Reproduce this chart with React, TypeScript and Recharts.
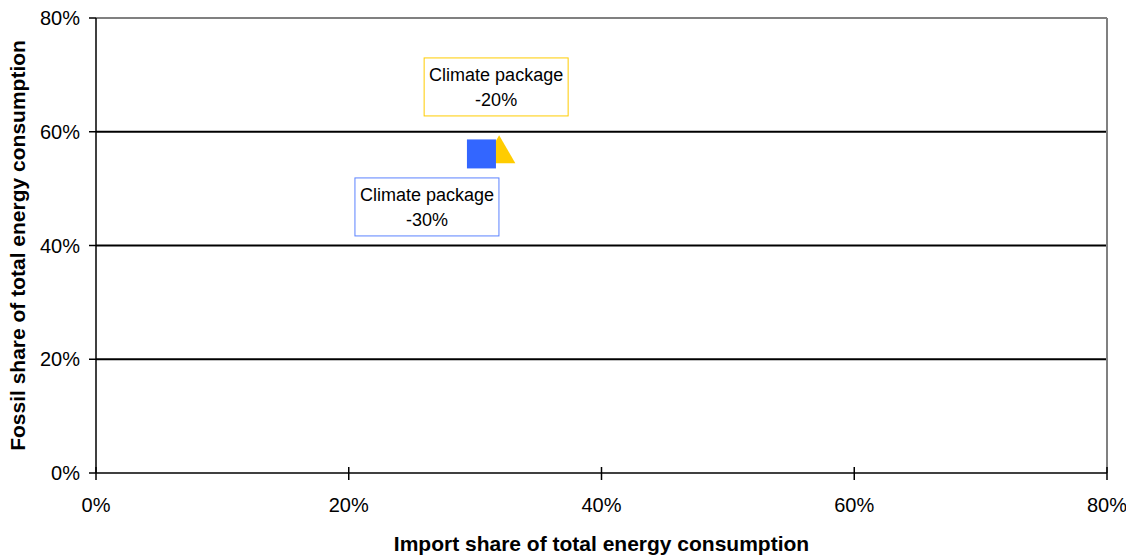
import React from 'react';
import {
  ScatterChart,
  Scatter,
  XAxis,
  YAxis,
  CartesianGrid,
  ReferenceLine,
  Label,
} from 'recharts';

// Scenario points: import share (x) vs fossil share (y), in percent
const package20 = [{ importShare: 31.9, fossilShare: 56.1 }];
const package30 = [{ importShare: 30.5, fossilShare: 56.1 }];

const package20Label = ['Climate package', '-20%'];
const package30Label = ['Climate package', '-30%'];

const axisTicks = [0, 20, 40, 60, 80];

const xTitle = 'Import share of total energy consumption';
const yTitle = 'Fossil share of total energy consumption';

const FONT = '"Liberation Sans", Arial, Helvetica, sans-serif';
const YELLOW = '#FFCC00';
const BLUE = '#3366FF';

const pct = (v: number) => `${v}%`;

const XTick = (props: any) => {
  const { x, y, payload } = props;
  return (
    <g>
      <line x1={x} x2={x} y1={y - 6} y2={y + 7} stroke="#000" strokeWidth={1.5} />
      <text
        x={x}
        y={y + 25}
        dy="0.71em"
        textAnchor="middle"
        fontSize={20}
        fontFamily={FONT}
        fill="#000"
      >
        {pct(payload.value)}
      </text>
    </g>
  );
};

const YTick = (props: any) => {
  const { x, y, payload } = props;
  return (
    <g>
      <line x1={x - 7} x2={x} y1={y} y2={y} stroke="#000" strokeWidth={1.5} />
      <text
        x={x - 16}
        y={y}
        dy="0.355em"
        textAnchor="end"
        fontSize={20}
        fontFamily={FONT}
        fill="#000"
      >
        {pct(payload.value)}
      </text>
    </g>
  );
};

const LabelBox = ({
  left,
  top,
  lines,
  border,
}: {
  left: number;
  top: number;
  lines: string[];
  border: string;
}) => {
  const w = 144;
  const h = 58;
  return (
    <g>
      <rect x={left} y={top} width={w} height={h} fill="#fff" stroke={border} strokeWidth={1} />
      {lines.map((t, i) => (
        <text
          key={i}
          x={left + w / 2}
          y={top + 17 + i * 24.5}
          dy="0.355em"
          textAnchor="middle"
          fontSize={18}
          fontFamily={FONT}
          fill="#000"
        >
          {t}
        </text>
      ))}
    </g>
  );
};

const TriangleMark = (props: any) => {
  const { cx, cy } = props;
  const pts = `${cx},${cy - 18.7} ${cx + 16.2},${cy + 9.3} ${cx - 16.2},${cy + 9.3}`;
  return (
    <g>
      <polygon points={pts} fill={YELLOW} />
      <LabelBox left={cx - 75} top={cy - 96} lines={package20Label} border={YELLOW} />
    </g>
  );
};

const SquareMark = (props: any) => {
  const { cx, cy } = props;
  const s = 29;
  return (
    <g>
      <rect x={cx - s / 2} y={cy - s / 2} width={s} height={s} fill={BLUE} />
      <LabelBox left={cx - 126.5} top={cy + 24} lines={package30Label} border="#5B82FF" />
    </g>
  );
};

export default function App() {
  return (
    <ScatterChart
      width={1126}
      height={548}
      margin={{ top: 10, right: 27, bottom: 0, left: 0 }}
      style={{ fontFamily: FONT }}
    >
      <CartesianGrid
        vertical={false}
        horizontalValues={[20, 40, 60]}
        stroke="#000"
        strokeWidth={2}
      />
      <XAxis
        type="number"
        dataKey="importShare"
        domain={[0, 80]}
        ticks={axisTicks}
        height={83}
        tickSize={0}
        tickMargin={0}
        tickLine={false}
        tick={<XTick />}
        axisLine={{ stroke: '#000', strokeWidth: 1.5 }}
        interval={0}
      >
        <Label
          value={xTitle}
          position="insideBottom"
          offset={5}
          style={{ fontSize: 21, fontWeight: 'bold', fontFamily: FONT, fill: '#000' }}
        />
      </XAxis>
      <YAxis
        type="number"
        dataKey="fossilShare"
        domain={[0, 80]}
        ticks={axisTicks}
        width={88}
        tickSize={0}
        tickMargin={0}
        tickLine={false}
        tick={<YTick />}
        axisLine={{ stroke: '#000', strokeWidth: 1.5 }}
        interval={0}
      >
        <Label
          value={yTitle}
          angle={-90}
          position="insideLeft"
          offset={10}
          style={{
            fontSize: 21,
            fontWeight: 'bold',
            fontFamily: FONT,
            fill: '#000',
            textAnchor: 'middle',
          }}
        />
      </YAxis>
      <ReferenceLine y={80} stroke="#808080" strokeWidth={2} />
      <ReferenceLine x={80} stroke="#808080" strokeWidth={2} />
      <Scatter
        name="Climate package -20%"
        data={package20}
        shape={<TriangleMark />}
        isAnimationActive={false}
      />
      <Scatter
        name="Climate package -30%"
        data={package30}
        shape={<SquareMark />}
        isAnimationActive={false}
      />
    </ScatterChart>
  );
}
